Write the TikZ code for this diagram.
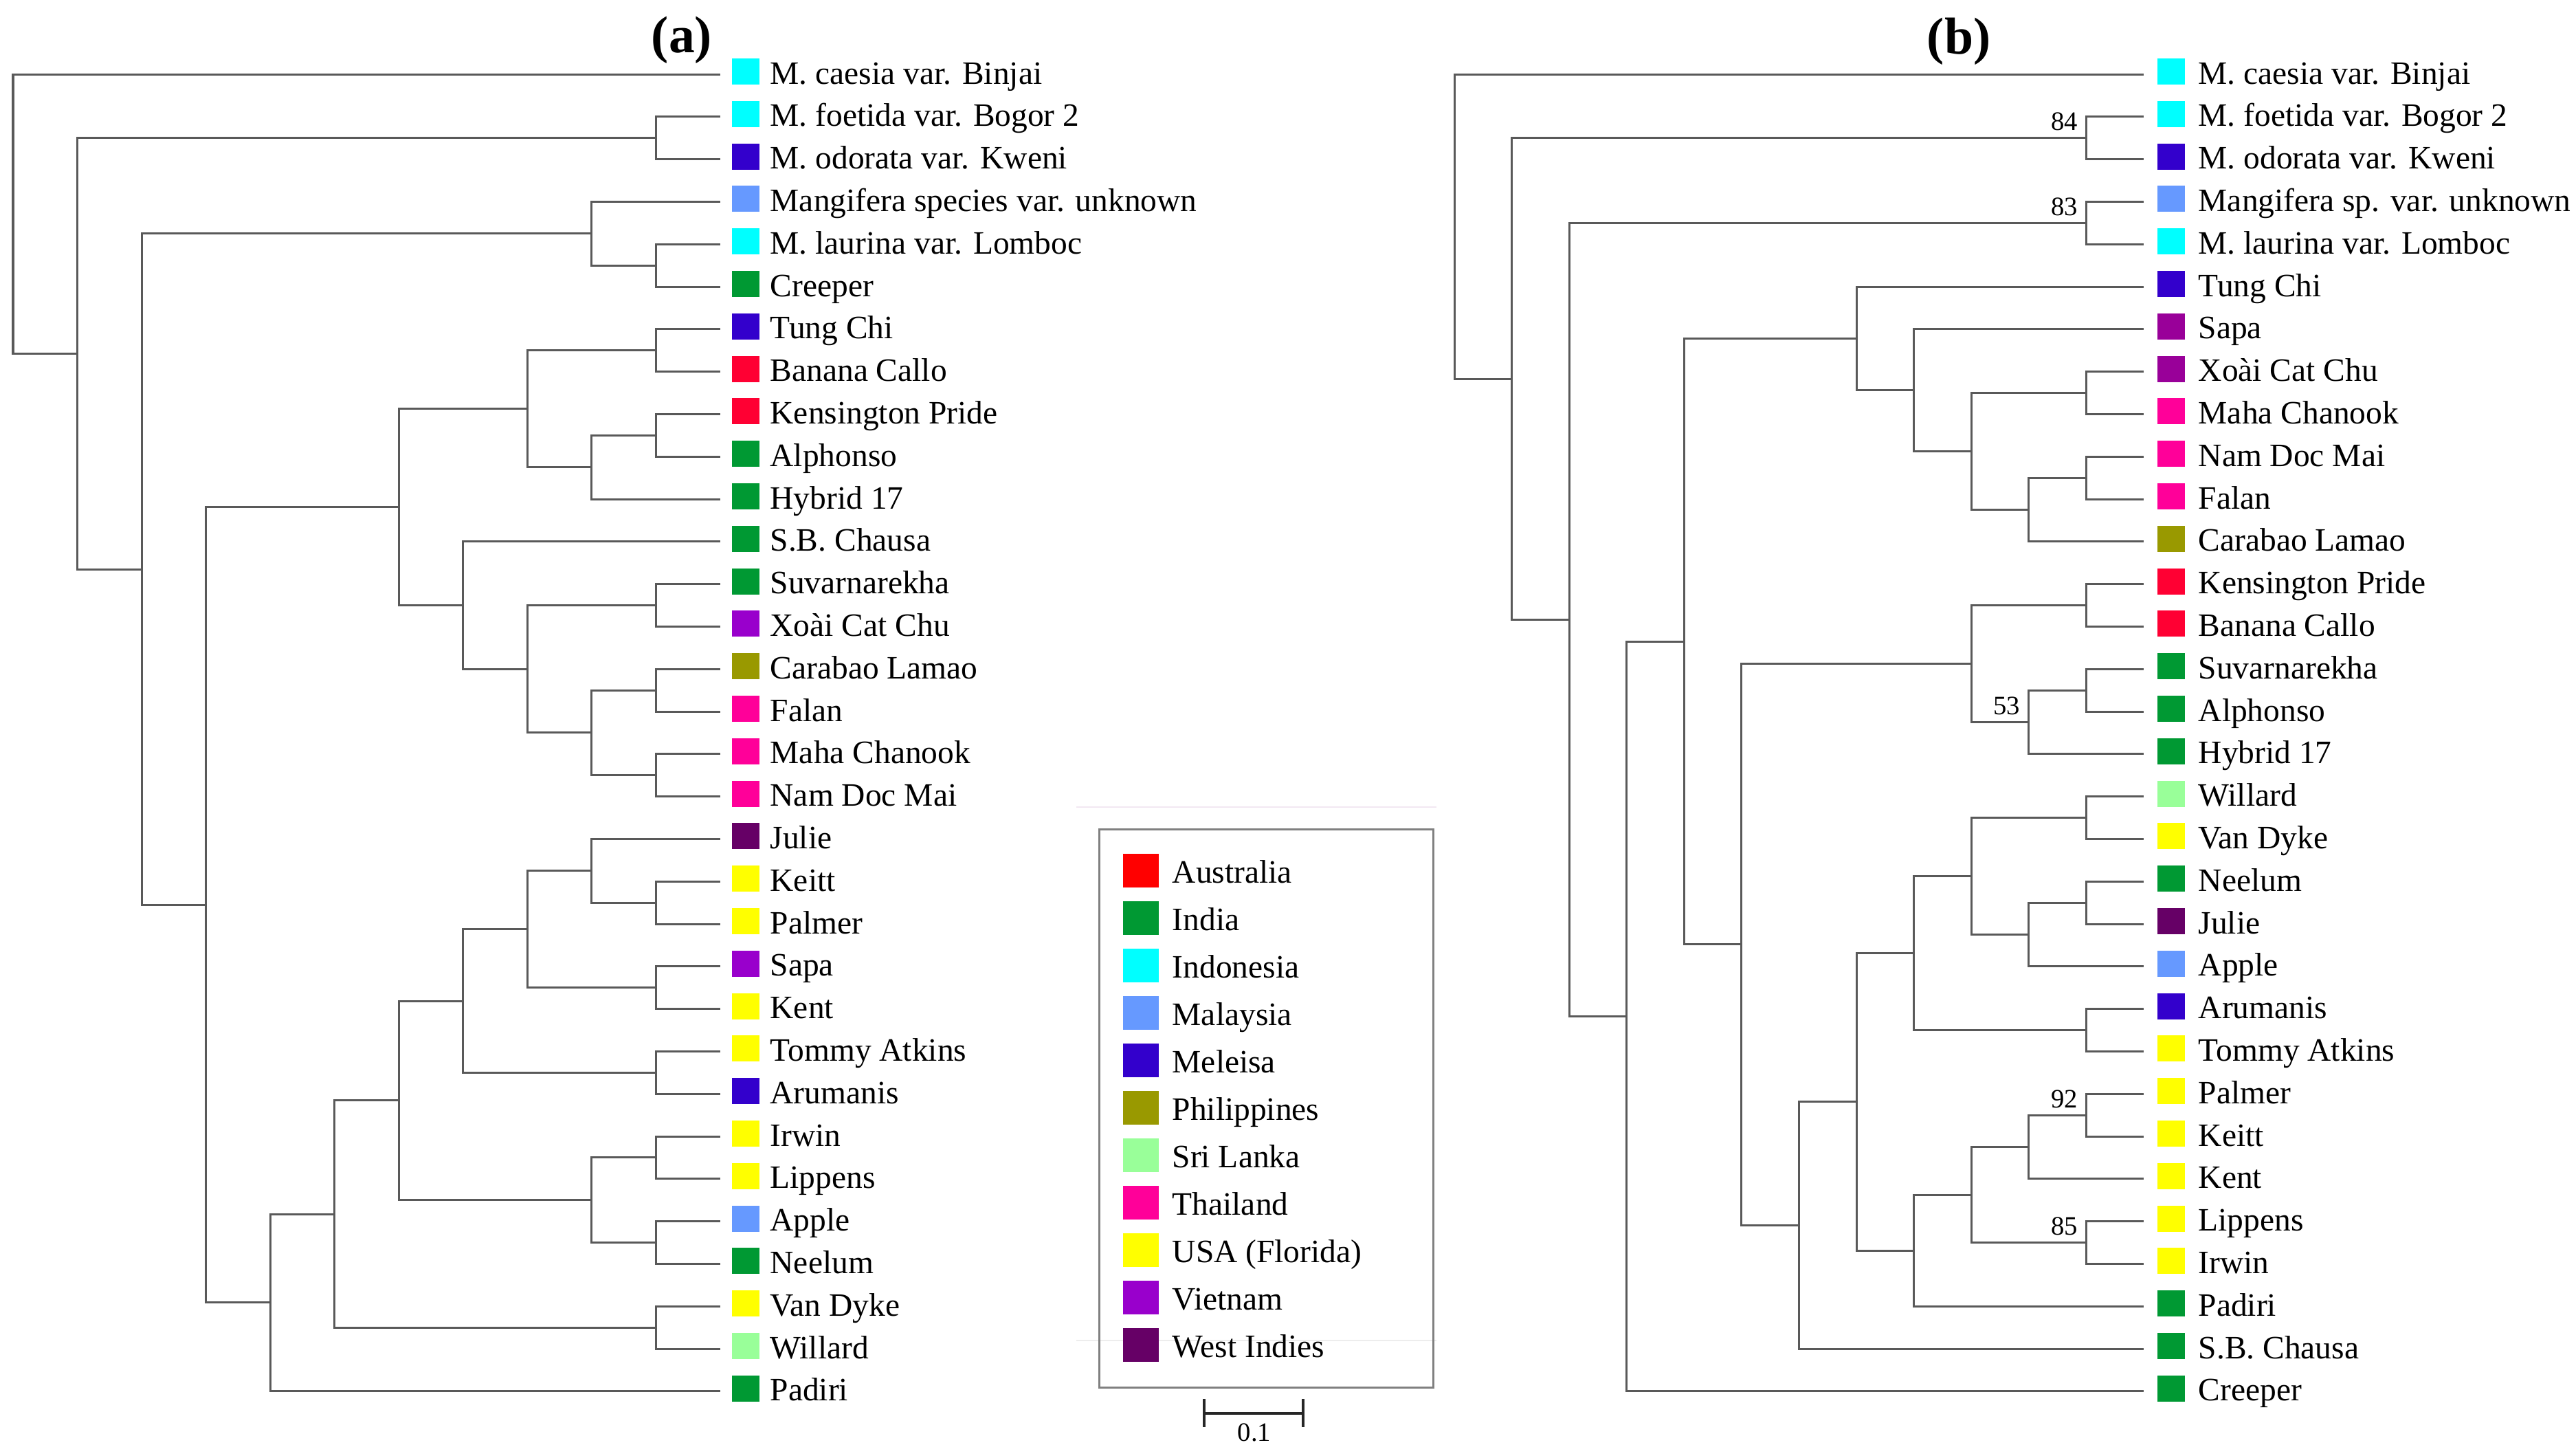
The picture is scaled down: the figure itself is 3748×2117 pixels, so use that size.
\documentclass[tikz,border=0pt]{standalone}
\usepackage{fontspec}
\setmainfont{Liberation Serif}
\usepackage{tikz}
\usetikzlibrary{calc}
\definecolor{indonesia}{HTML}{00FFFF}
\definecolor{meleisa}{HTML}{3300CC}
\definecolor{malaysia}{HTML}{6699FF}
\definecolor{india}{HTML}{009933}
\definecolor{australia}{HTML}{FF0033}
\definecolor{australiaKey}{HTML}{FF0000}
\definecolor{philippines}{HTML}{999900}
\definecolor{srilanka}{HTML}{99FF99}
\definecolor{thailand}{HTML}{FF0099}
\definecolor{usa}{HTML}{FFFF00}
\definecolor{vietnam}{HTML}{9900CC}
\definecolor{vietnamB}{HTML}{990099}
\definecolor{westindies}{HTML}{660066}
% clade: name, x of its branch point, first child, second child
\newcommand{\clade}[4]{
	\coordinate (#1-m) at ($(#3)!.5!(#4)$);
	\coordinate (#1) at (#2,0 |- #1-m);
	\draw[branch] (#3) -| (#1) |- (#4);
}

\begin{document}
\begin{tikzpicture}%
		[
			x=0.01cm, y=-0.01cm,
			font={\fontsize{13.5}{16}\selectfont},
			branch/.style={draw=black!65, line width=0.03cm},
			key/.style={inner sep=0, minimum width=0.4cm, minimum height=0.38cm},
			legendKey/.style={inner sep=0, minimum width=0.52cm, minimum height=0.49cm},
			taxon/.style={anchor=base west, inner sep=0},
			boot/.style={anchor=base east, inner sep=0, xshift=-0.12cm, yshift=0.11cm, font={\fontsize{11}{13}\selectfont}},
			title/.style={inner sep=0, font={\fontsize{21.5}{24}\selectfont\bfseries}},
			keyFrame/.style={draw=black!50, line width=0.03cm, inner sep=0, minimum width=4.85cm, minimum height=8.11cm},
			scaleBar/.style={draw=black!85, line width=0.045cm},
			ghost/.style={line width=0.02cm},
		]
		\useasboundingbox (0,0) rectangle (3748,2117);
		\node[title] (titleA) at (992,58) {(a)};
		\node[title] (titleB) at (2850,60) {(b)};
		% tree (a)
		\foreach \i/\lab/\col in {
			0/{M. caesia var. Binjai}/indonesia, 1/{M. foetida var. Bogor 2}/indonesia,
			2/{M. odorata var. Kweni}/meleisa, 3/{Mangifera species var. unknown}/malaysia,
			4/{M. laurina var. Lomboc}/indonesia, 5/Creeper/india, 6/Tung Chi/meleisa,
			7/Banana Callo/australia, 8/Kensington Pride/australia, 9/Alphonso/india,
			10/Hybrid 17/india, 11/S.B. Chausa/india, 12/Suvarnarekha/india,
			13/Xoài Cat Chu/vietnam, 14/Carabao Lamao/philippines, 15/Falan/thailand,
			16/Maha Chanook/thailand, 17/Nam Doc Mai/thailand, 18/Julie/westindies,
			19/Keitt/usa, 20/Palmer/usa, 21/Sapa/vietnam, 22/Kent/usa,
			23/Tommy Atkins/usa, 24/Arumanis/meleisa, 25/Irwin/usa, 26/Lippens/usa,
			27/Apple/malaysia, 28/Neelum/india, 29/Van Dyke/usa, 30/Willard/srilanka,
			31/Padiri/india}
		{
			\coordinate (a\i) at (1047.5,{108+61.8*\i});
			\node[key, fill=\col] (ka\i) at (1084.5,{104+61.8*\i}) {};
			\node[taxon] (ta\i) at (1120,{122+61.8*\i}) {\lab};
		}
		\clade{ca1-2}{954}{a1}{a2}
		\clade{ca4-5}{954}{a4}{a5}
		\clade{ca3-5}{860.5}{a3}{ca4-5}
		\clade{ca6-7}{954}{a6}{a7}
		\clade{ca8-9}{954}{a8}{a9}
		\clade{ca8-10}{860.5}{ca8-9}{a10}
		\clade{ca6-10}{767}{ca6-7}{ca8-10}
		\clade{ca12-13}{954}{a12}{a13}
		\clade{ca14-15}{954}{a14}{a15}
		\clade{ca16-17}{954}{a16}{a17}
		\clade{ca14-17}{860.5}{ca14-15}{ca16-17}
		\clade{ca12-17}{767}{ca12-13}{ca14-17}
		\clade{ca11-17}{673.5}{a11}{ca12-17}
		\clade{ca6-17}{580}{ca6-10}{ca11-17}
		\clade{ca19-20}{954}{a19}{a20}
		\clade{ca18-20}{860.5}{a18}{ca19-20}
		\clade{ca21-22}{954}{a21}{a22}
		\clade{ca18-22}{767}{ca18-20}{ca21-22}
		\clade{ca23-24}{954}{a23}{a24}
		\clade{ca18-24}{673.5}{ca18-22}{ca23-24}
		\clade{ca25-26}{954}{a25}{a26}
		\clade{ca27-28}{954}{a27}{a28}
		\clade{ca25-28}{860.5}{ca25-26}{ca27-28}
		\clade{ca18-28}{580}{ca18-24}{ca25-28}
		\clade{ca29-30}{954}{a29}{a30}
		\clade{ca18-30}{486.5}{ca18-28}{ca29-30}
		\clade{ca18-31}{393}{ca18-30}{a31}
		\clade{ca6-31}{299.5}{ca6-17}{ca18-31}
		\clade{ca3-31}{206}{ca3-5}{ca6-31}
		\clade{ca1-31}{112.5}{ca1-2}{ca3-31}
		\clade{ca0-31}{19}{a0}{ca1-31}
		% legend and scale
		\draw[ghost, draw={rgb,255:red,242;green,232;blue,242}] (1566,1174) -- (2090,1174);
		\draw[ghost, draw=black!7] (1566,1950) -- (2090,1950);
		\node[keyFrame] (legend) at (1842.5,1612.5) {};
		\foreach \j/\country/\col in {
			0/Australia/australiaKey, 1/India/india, 2/Indonesia/indonesia,
			3/Malaysia/malaysia, 4/Meleisa/meleisa, 5/Philippines/philippines,
			6/Sri Lanka/srilanka, 7/Thailand/thailand, 8/USA (Florida)/usa,
			9/Vietnam/vietnam, 10/West Indies/westindies}
		{
			\node[legendKey, fill=\col] (lk\j) at (1659.5,{1266+69*\j}) {};
			\node[taxon] (lt\j) at (1705,{1284+69*\j}) {\country};
		}
		\coordinate (sb0) at (1752,2056);
		\coordinate (sb1) at (1896,2056);
		\draw[scaleBar] (sb0) -- (sb1);
		\draw[scaleBar] ([yshift=0.21cm]sb0) -- ([yshift=-0.2cm]sb0);
		\draw[scaleBar] ([yshift=0.21cm]sb1) -- ([yshift=-0.2cm]sb1);
		\node[inner sep=0, font={\fontsize{11}{13}\selectfont}] (sbl) at (1825,2084) {0.1};
		% tree (b)
		\foreach \i/\lab/\col in {
			0/{M. caesia var. Binjai}/indonesia, 1/{M. foetida var. Bogor 2}/indonesia,
			2/{M. odorata var. Kweni}/meleisa, 3/{Mangifera sp. var. unknown}/malaysia,
			4/{M. laurina var. Lomboc}/indonesia, 5/Tung Chi/meleisa, 6/Sapa/vietnamB,
			7/Xoài Cat Chu/vietnamB, 8/Maha Chanook/thailand, 9/Nam Doc Mai/thailand,
			10/Falan/thailand, 11/Carabao Lamao/philippines, 12/Kensington Pride/australia,
			13/Banana Callo/australia, 14/Suvarnarekha/india, 15/Alphonso/india,
			16/Hybrid 17/india, 17/Willard/srilanka, 18/Van Dyke/usa, 19/Neelum/india,
			20/Julie/westindies, 21/Apple/malaysia, 22/Arumanis/meleisa,
			23/Tommy Atkins/usa, 24/Palmer/usa, 25/Keitt/usa, 26/Kent/usa,
			27/Lippens/usa, 28/Irwin/usa, 29/Padiri/india, 30/S.B. Chausa/india,
			31/Creeper/india}
		{
			\coordinate (b\i) at (3119,{108+61.8*\i});
			\node[key, fill=\col] (kb\i) at (3159,{104+61.8*\i}) {};
			\node[taxon] (tb\i) at (3198,{122+61.8*\i}) {\lab};
		}
		\clade{cb1-2}{3035.4}{b1}{b2}
		\clade{cb3-4}{3035.4}{b3}{b4}
		\clade{cb7-8}{3035.4}{b7}{b8}
		\clade{cb9-10}{3035.4}{b9}{b10}
		\clade{cb9-11}{2951.8}{cb9-10}{b11}
		\clade{cb7-11}{2868.2}{cb7-8}{cb9-11}
		\clade{cb6-11}{2784.6}{b6}{cb7-11}
		\clade{cb5-11}{2701.1}{b5}{cb6-11}
		\clade{cb12-13}{3035.4}{b12}{b13}
		\clade{cb14-15}{3035.4}{b14}{b15}
		\clade{cb14-16}{2951.8}{cb14-15}{b16}
		\clade{cb12-16}{2868.2}{cb12-13}{cb14-16}
		\clade{cb17-18}{3035.4}{b17}{b18}
		\clade{cb19-20}{3035.4}{b19}{b20}
		\clade{cb19-21}{2951.8}{cb19-20}{b21}
		\clade{cb17-21}{2868.2}{cb17-18}{cb19-21}
		\clade{cb22-23}{3035.4}{b22}{b23}
		\clade{cb17-23}{2784.6}{cb17-21}{cb22-23}
		\clade{cb24-25}{3035.4}{b24}{b25}
		\clade{cb24-26}{2951.8}{cb24-25}{b26}
		\clade{cb27-28}{3035.4}{b27}{b28}
		\clade{cb24-28}{2868.2}{cb24-26}{cb27-28}
		\clade{cb24-29}{2784.6}{cb24-28}{b29}
		\clade{cb17-29}{2701.1}{cb17-23}{cb24-29}
		\clade{cb17-30}{2617.5}{cb17-29}{b30}
		\clade{cb12-30}{2533.9}{cb12-16}{cb17-30}
		\clade{cb5-30}{2450.3}{cb5-11}{cb12-30}
		\clade{cb5-31}{2366.7}{cb5-30}{b31}
		\clade{cb3-31}{2283.2}{cb3-4}{cb5-31}
		\clade{cb1-31}{2199.6}{cb1-2}{cb3-31}
		\clade{cb0-31}{2116}{b0}{cb1-31}
		% bootstrap values
		\node[boot] (bs1) at (cb1-2) {84};
		\node[boot] (bs2) at (cb3-4) {83};
		\node[boot] (bs3) at (cb14-16) {53};
		\node[boot] (bs4) at (cb24-25) {92};
		\node[boot] (bs5) at (cb27-28) {85};
	\end{tikzpicture}
\end{document}
